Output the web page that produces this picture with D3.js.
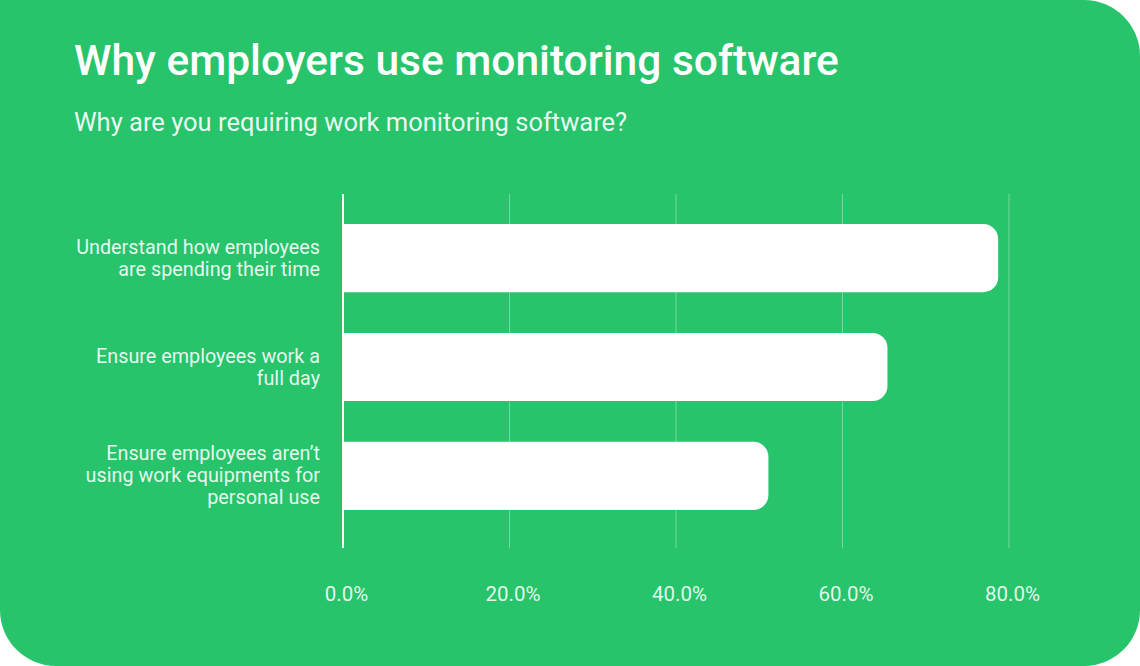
<!DOCTYPE html>
<html>
<head>
<meta charset="utf-8">
<script src="https://cdn.jsdelivr.net/npm/d3@7"></script>
<style>
  body { margin: 0; background: #fff; }
  svg { display: block; }
</style>
</head>
<body>
<div id="container"></div>
<script>
// chart data
let categories = [
  "Understand how employees\nare spending their time",
  "Ensure employees work a\nfull day",
  "Ensure employees aren\u2019t\nusing work equipments for\npersonal use"
];
let values = [0.787, 0.654, 0.511];
let tickValues = [0, 0.2, 0.4, 0.6, 0.8];

let titleText = "Why employers use monitoring software";
let subtitleText = "Why are you requiring work monitoring software?";

let w = 1140;
let h = 666;
let green = "#27c46c";

let viz = d3.select("#container")
  .append("svg")
    .attr("width", w)
    .attr("height", h)
    .style("font-family", "Roboto, 'Open Sans', sans-serif")
;

// card background: square top-left corner, the rest rounded
let r = 56;
viz.append("path")
  .attr("d", "M0,0 H" + (w - r) + " A" + r + "," + r + " 0 0 1 " + w + "," + r +
    " V" + (h - r) + " A" + r + "," + r + " 0 0 1 " + (w - r) + "," + h +
    " H" + r + " A" + r + "," + r + " 0 0 1 0," + (h - r) + " Z")
  .attr("fill", green)
;

// headings
viz.append("text")
  .attr("x", 74)
  .attr("y", 75)
  .attr("fill", "#fff")
  .attr("font-size", 42.5)
  .attr("font-weight", 500)
  .text(titleText)
;
viz.append("text")
  .attr("x", 74)
  .attr("y", 131)
  .attr("fill", "rgba(255,255,255,0.92)")
  .attr("font-size", 25.5)
  .text(subtitleText)
;

// scales
let xScale = d3.scaleLinear()
  .domain([0, 0.8])
  .range([343, 1009])
;
let yScale = d3.scaleBand()
  .domain(categories)
  .range([189.7, 544.3])
  .paddingInner(0.374)
  .paddingOuter(0.316)
;
let gridTop = 194;
let gridBottom = 548;

// grid lines
viz.append("g").classed("grid", true)
  .selectAll("line")
  .data(tickValues.slice(1))
  .join("line")
    .attr("x1", d => xScale(d))
    .attr("x2", d => xScale(d))
    .attr("y1", gridTop)
    .attr("y2", gridBottom)
    .attr("stroke", "rgba(255,255,255,0.35)")
    .attr("stroke-width", 1)
;

// x axis labels
let xAxis = d3.axisBottom(xScale)
  .tickValues(tickValues)
  .tickFormat(d => (d * 100).toFixed(1) + "%")
  .tickSize(0)
  .tickPadding(0)
;
let xAxisGroup = viz.append("g").classed("xAxis", true)
  .attr("transform", "translate(3," + 601 + ")")
  .call(xAxis)
;
xAxisGroup.select(".domain").remove();
xAxisGroup.selectAll("text")
  .attr("dy", 0)
  .attr("y", 0)
  .attr("fill", "rgba(255,255,255,0.88)")
  .attr("font-size", 20.5)
  .attr("font-family", "Roboto, sans-serif")
;

// bars, rounded on the right end only
let br = 15;
function barPath(d, i) {
  let x0 = xScale(0) + 1;
  let x1 = xScale(d);
  let y0 = yScale(categories[i]);
  let y1 = y0 + yScale.bandwidth();
  return "M" + x0 + "," + y0 + " H" + (x1 - br) +
    " A" + br + "," + br + " 0 0 1 " + x1 + "," + (y0 + br) +
    " V" + (y1 - br) +
    " A" + br + "," + br + " 0 0 1 " + (x1 - br) + "," + y1 +
    " H" + x0 + " Z";
}
viz.append("g").classed("graphGroup", true)
  .selectAll("path")
  .data(values)
  .join("path")
    .attr("d", barPath)
    .attr("fill", "#fff")
;

// zero line
viz.append("line")
  .attr("x1", xScale(0))
  .attr("x2", xScale(0))
  .attr("y1", gridTop)
  .attr("y2", gridBottom)
  .attr("stroke", "#fff")
  .attr("stroke-width", 2)
;

// category labels, right aligned, multi line
let lineH = 22;
let labels = viz.append("g").classed("labels", true)
  .selectAll("text")
  .data(categories)
  .join("text")
    .attr("text-anchor", "end")
    .attr("fill", "rgba(255,255,255,0.9)")
    .attr("font-size", 19.8)
;
labels.each(function(d) {
  let lines = d.split("\n");
  let cy = yScale(d) + yScale.bandwidth() / 2;
  let first = cy - (lines.length - 1) * lineH / 2 + 6.5;
  d3.select(this).selectAll("tspan")
    .data(lines)
    .join("tspan")
      .attr("x", 320)
      .attr("y", (l, j) => first + j * lineH)
      .text(l => l);
});
</script>
</body>
</html>
